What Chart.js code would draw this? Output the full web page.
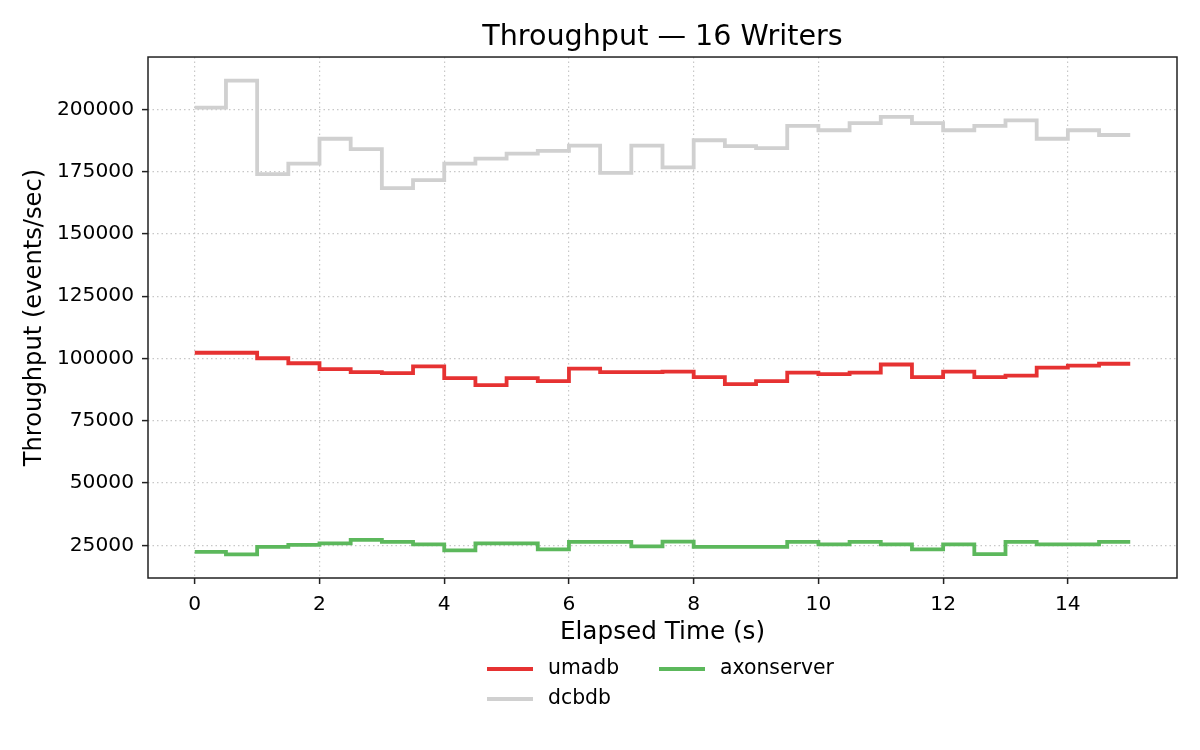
<!DOCTYPE html>
<html>
<head>
<meta charset="utf-8">
<script src="https://cdn.jsdelivr.net/npm/chart.js@4"></script>
<style>
  html, body { margin: 0; padding: 0; background: #fff; }
  #chart { display: block; }
</style>
</head>
<body>
<canvas id="chart" width="1200" height="750"></canvas>
<script>
// Elapsed time samples (s), every half second
const elapsed = [0, 0.5, 1, 1.5, 2, 2.5, 3, 3.5, 4, 4.5, 5, 5.5, 6, 6.5, 7, 7.5,
                 8, 8.5, 9, 9.5, 10, 10.5, 11, 11.5, 12, 12.5, 13, 13.5, 14, 14.5, 15];

// Throughput per store (events/sec)
const umadb = [102300, 102300, 100100, 98100, 95700, 94500, 94100, 96800, 92100, 89300,
               92100, 90900, 95900, 94500, 94500, 94700, 92500, 89700, 90900, 94300,
               93700, 94300, 97600, 92500, 94700, 92500, 93100, 96300, 97100, 97900, 97900];
const dcbdb = [200700, 211500, 174000, 178200, 188200, 184000, 168400, 171600, 178200, 180200,
               182200, 183300, 185400, 174500, 185400, 176700, 187600, 185200, 184400, 193400,
               191600, 194500, 197000, 194500, 191600, 193400, 195600, 188200, 191600, 189700, 189700];
const axonserver = [22400, 21400, 24400, 25200, 25800, 27200, 26400, 25400, 23000, 25800,
                    25800, 23400, 26400, 26400, 24600, 26500, 24400, 24400, 24400, 26400,
                    25400, 26400, 25400, 23400, 25400, 21500, 26400, 25400, 25400, 26400, 26400];

const xTicks = [0, 2, 4, 6, 8, 10, 12, 14];
const yTicks = [25000, 50000, 75000, 100000, 125000, 150000, 175000, 200000];

const FONT = "'DejaVu Sans', sans-serif";

const toPoints = arr => arr.map((v, i) => ({ x: elapsed[i], y: v }));

// box around the plot + two-column legend like matplotlib
const framePlugin = {
  id: "frame",
  afterDraw(chart) {
    const { ctx, chartArea: a } = chart;
    ctx.save();
    ctx.strokeStyle = "#222";
    ctx.lineWidth = 1.5;
    ctx.strokeRect(a.left, a.top, a.right - a.left, a.bottom - a.top);

    const items = [
      { ds: 0, x: 487, y: 669 },
      { ds: 2, x: 659, y: 669 },
      { ds: 1, x: 487, y: 699 }
    ];
    ctx.font = "20.4px " + FONT;
    ctx.textBaseline = "middle";
    ctx.textAlign = "left";
    items.forEach(it => {
      const d = chart.data.datasets[it.ds];
      ctx.strokeStyle = d.borderColor;
      ctx.lineWidth = d.borderWidth;
      ctx.beginPath();
      ctx.moveTo(it.x, it.y);
      ctx.lineTo(it.x + 46, it.y);
      ctx.stroke();
      ctx.fillStyle = "#000";
      ctx.fillText(d.label, it.x + 61, it.y);
    });
    ctx.restore();
  }
};

new Chart(document.getElementById("chart"), {
  type: "line",
  data: {
    datasets: [
      { label: "umadb", data: toPoints(umadb), borderColor: "#e63232", borderWidth: 3.8 },
      { label: "dcbdb", data: toPoints(dcbdb), borderColor: "#d0d0d0", borderWidth: 3.8 },
      { label: "axonserver", data: toPoints(axonserver), borderColor: "#5cb85c", borderWidth: 3.8 }
    ]
  },
  options: {
    responsive: false,
    animation: false,
    devicePixelRatio: 1,
    datasets: {
      line: { stepped: true, pointRadius: 0, fill: false, borderJoinStyle: "miter", borderCapStyle: "butt" }
    },
    layout: { padding: { left: 0, right: 23, top: 0, bottom: 102.2 } },
    plugins: {
      legend: { display: false },
      tooltip: { enabled: false },
      title: {
        display: true,
        fullSize: false,
        text: "Throughput — 16 Writers",
        color: "#000",
        font: { family: FONT, size: 28.6, weight: "normal" },
        padding: { top: 20, bottom: 2.7 }
      }
    },
    scales: {
      x: {
        type: "linear",
        min: -0.75,
        max: 15.75,
        afterBuildTicks: s => { s.ticks = xTicks.map(v => ({ value: v })); },
        afterFit: s => { s.height = 69.8; },
        ticks: { color: "#000", font: { family: FONT, size: 20.2 }, padding: 9, maxRotation: 0,
                 callback: v => String(v) },
        grid: { color: "#c8c8c8", lineWidth: 1.2, tickColor: "#222", tickLength: 6, tickWidth: 1.5,
                tickBorderDash: [] },
        border: { display: false, dash: [1.5, 3] },
        title: { display: true, text: "Elapsed Time (s)", color: "#000",
                 font: { family: FONT, size: 24.7 }, padding: { top: 0, bottom: 0 } }
      },
      y: {
        min: 11900,
        max: 221000,
        afterBuildTicks: s => { s.ticks = yTicks.map(v => ({ value: v })); },
        afterFit: s => { s.width = 148; },
        ticks: { color: "#000", font: { family: FONT, size: 20.2 }, padding: 8,
                 callback: v => String(v) },
        grid: { color: "#c8c8c8", lineWidth: 1.2, tickColor: "#222", tickLength: 6, tickWidth: 1.5,
                tickBorderDash: [] },
        border: { display: false, dash: [1.5, 3] },
        title: { display: true, text: "Throughput (events/sec)", color: "#000",
                 font: { family: FONT, size: 24.2 }, padding: { top: 20, bottom: 0 } }
      }
    }
  },
  plugins: [framePlugin]
});
</script>
</body>
</html>
